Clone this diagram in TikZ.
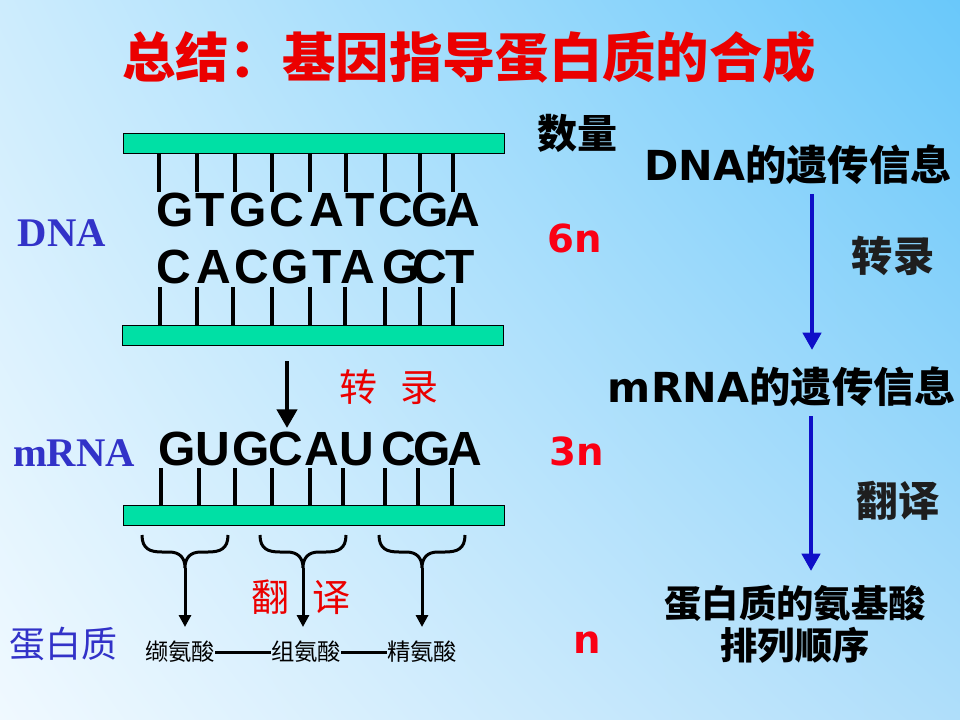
\documentclass[tikz,border=0pt]{standalone}
\usepackage{fontspec}
\setmainfont{Liberation Serif}
\newfontfamily\cjk{Noto Sans CJK SC}
\newfontfamily\arb{Liberation Sans}
\newfontfamily\dvb{DejaVu Sans}
\newfontfamily\tmb{Liberation Serif}
\usetikzlibrary{arrows.meta,shadings}
\definecolor{bgTL}{RGB}{205,236,253}
\definecolor{bgTR}{RGB}{105,200,250}
\definecolor{bgBL}{RGB}{240,249,255}
\definecolor{bgBR}{RGB}{175,222,250}
\definecolor{barg}{RGB}{0,224,165}
\definecolor{titlered}{RGB}{235,0,0}
\definecolor{numred}{RGB}{250,0,20}
\definecolor{lblblue}{RGB}{50,50,200}
\definecolor{arrblue}{RGB}{15,15,200}
\definecolor{darktxt}{RGB}{30,30,30}
\tikzset{
  base/.style={font=\arb\bfseries\fontsize{36}{36}\selectfont, inner sep=0pt},
  tickline/.style={line width=3.4pt},
  bar/.style={draw=black, line width=0.75pt, fill=barg, minimum width=285.75pt, minimum height=15pt, inner sep=0pt, anchor=north west},
  num/.style={font=\dvb\bfseries\fontsize{29}{29}\selectfont, text=numred, inner sep=0pt},
  leftlbl/.style={font=\tmb\bfseries\fontsize{30.5}{30.5}\selectfont, text=lblblue, inner sep=0pt},
  redcjk/.style={font=\cjk\fontsize{28.5}{28.5}\selectfont, text=titlered, inner sep=0pt},
  info/.style={font=\fontsize{31}{31}\selectfont, inner sep=0pt},
  infocjk/.style={font=\cjk\bfseries\fontsize{28}{31.5}\selectfont, inner sep=0pt, align=center},
  amino/.style={font=\cjk\fontsize{17.5}{17.5}\selectfont, inner sep=0pt},
  bracepath/.style={line width=2.25pt},
  smallarrow/.style={-{Triangle[length=9pt,width=9pt]}, line width=2.25pt},
  blackarrow/.style={-{Triangle[length=14pt,width=15pt]}, line width=3.2pt},
  bluearrow/.style={-{Triangle[length=13pt,width=13.5pt]}, line width=3.5pt, draw=arrblue, fill=arrblue},
}
\begin{document}
\begin{tikzpicture}[x=0.75pt,y=-0.75pt]
\useasboundingbox (0,0) rectangle (960,720);
\shade[upper left=bgTL, upper right=bgTR, lower left=bgBL, lower right=bgBR] (0,0) rectangle (960,720);

% title
\node[font=\cjk\bfseries\fontsize{40}{40}\selectfont, text=titlered, inner sep=0pt] (title) at (469,57) {总结：基因指导蛋白质的合成};

% bars
\node[bar] (dnaTop) at (123,133) {};
\node[bar] (dnaBot) at (122,325) {};
\node[bar] (rnaBar) at (123,505) {};

% ticks
\foreach \x in {159,197,235,272,310,346,385,420,453} \draw[tickline] (\x,153) -- (\x,192);
\foreach \x in {160,197,233,272,310,345,385,420,453} \draw[tickline] (\x,287) -- (\x,325);
\foreach \x in {161,199,235,272,310,343,385,418,452} \draw[tickline] (\x,468) -- (\x,505);

% bases
\foreach \x/\l [count=\i] in {175/G,210/T,248/G,287/C,327/A,360/T,396/C,430/G,463/A}
  \node[base] (s\i) at (\x,210) {\l};
\foreach \x/\l [count=\i] in {174/C,214/A,252/C,290/G,327/T,358/A,401/G,430/C,460/T}
  \node[base] (c\i) at (\x,267) {\l};
\foreach \x/\l [count=\i] in {177/G,213/U,251/G,286/C,322/A,357/U,399/C,432/G,465/A}
  \node[base] (r\i) at (\x,449) {\l};

% left labels
\node[leftlbl] (lDNA) at (62,233) {DNA};
\node[leftlbl] (lRNA) at (74,453) {mRNA};
\node[font=\cjk\fontsize{27}{27}\selectfont, text=lblblue, inner sep=0pt] (lPro) at (63,644) {蛋白质};

% transcription arrow
\coordinate (tA) at (287,361);
\coordinate (tB) at (287,428);
\draw[blackarrow] (tA) -- (tB);
\node[redcjk] (zl) at (389,387) {\spaceskip=18pt\relax 转 录};

% braces and translation arrows
\node[amino] (aa1) at (180,652) {缬氨酸};
\node[amino] (aa2) at (306,652) {组氨酸};
\node[amino] (aa3) at (422,652) {精氨酸};
\draw[line width=2.25pt] (aa1.east) -- (aa2.west);
\draw[line width=2.25pt] (aa2.east) -- (aa3.west);

\foreach \m/\k in {185/1,303/2,422/3} {
  \coordinate (bt\k) at (\m,568);
  \coordinate (be\k) at (\m,627);
  \draw[bracepath] (\m-43,535) .. controls (\m-43,549) and (\m-35,552) .. (\m-23,552)
     -- (\m-16,552) .. controls (\m-5,552) and (\m,558) .. (bt\k)
     .. controls (\m,558) and (\m+5,552) .. (\m+16,552)
     -- (\m+23,552) .. controls (\m+35,552) and (\m+43,549) .. (\m+43,535);
  \draw[smallarrow] (bt\k) -- (be\k);
}
\node[redcjk] (fy) at (301,597) {\spaceskip=18pt\relax 翻 译};

% numbers
\node[font=\cjk\bfseries\fontsize{30}{30}\selectfont, inner sep=0pt] (sl) at (577,133) {数量};
\node[num] (n6) at (575,238) {6n};
\node[num] (n3) at (577,451) {3n};
\node[num] (n1) at (587,643) {n};

% right flow
\node[info] (i1) at (798,165) {{\dvb\bfseries DNA}{\cjk\bfseries 的遗传信息}};
\node[info] (i2) at (782,387) {{\dvb\bfseries mRNA}{\cjk\bfseries 的遗传信息}};
\node[infocjk] (i3) at (795,624) {蛋白质的氨基酸\\排列顺序};
\coordinate (a1s) at (812,194);
\coordinate (a1e) at (812,350);
\coordinate (a2s) at (811,416);
\coordinate (a2e) at (811,571);
\draw[bluearrow] (a1s) -- (a1e);
\draw[bluearrow] (a2s) -- (a2e);
\node[font=\cjk\bfseries\fontsize{31}{31}\selectfont, text=darktxt, inner sep=0pt] (zl2) at (893,256) {转录};
\node[font=\cjk\bfseries\fontsize{31}{31}\selectfont, text=darktxt, inner sep=0pt] (fy2) at (898,501) {翻译};
\end{tikzpicture}
\end{document}
